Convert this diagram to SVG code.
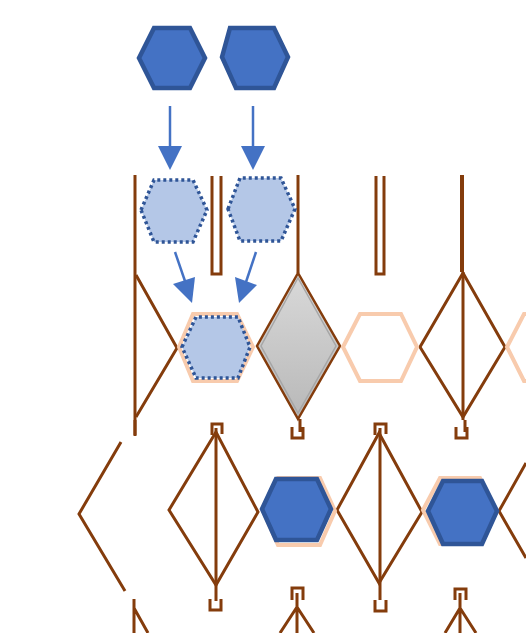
<svg xmlns="http://www.w3.org/2000/svg" width="526" height="633" viewBox="0 0 526 633">
<style>
.br{stroke:#843C0C;stroke-width:3;fill:none}
.pe{stroke:#F8CBAD;stroke-width:4;fill:none}
.hb{fill:#4472C4;stroke:#2F5597;stroke-width:4.5;stroke-linejoin:miter}
.hd{fill:#B4C7E7;stroke:#2F5597;stroke-width:3.5;stroke-dasharray:3 3}
.ar{stroke:#4472C4;stroke-width:2.5;fill:none}
.ah{fill:#4472C4}
</style>
<defs>
<linearGradient id="gg" x1="0" y1="0" x2="0" y2="1">
<stop offset="0" stop-color="#D9D9D9"/>
<stop offset="1" stop-color="#B8B8B8"/>
</linearGradient>
</defs>
<rect width="526" height="633" fill="#fff"/>
<g id="connectors">
<line class="ar" x1="170" y1="106" x2="170" y2="148"/>
<polygon class="ah" points="158,146 182,146 170,170"/>
<line class="ar" x1="253" y1="106" x2="253" y2="148"/>
<polygon class="ah" points="241,146 265,146 253,170"/>
<line class="ar" x1="175" y1="252" x2="186" y2="284"/>
<polygon class="ah" points="173,284 195,277 192,303"/>
<line class="ar" x1="256" y1="252" x2="246" y2="282"/>
<polygon class="ah" points="235,277 257,285 239,303"/>
<path class="br" d="M135,175 V436"/>
<path class="br" d="M136,275 L177,348 L136,417"/>
<path class="br" d="M212,176 V274 H221 V176"/>
<path class="br" d="M298,175 V273"/>
<path class="br" d="M376,176 V274 H384 V176"/>
<path class="br" d="M462,175 V272" style="stroke-width:4"/>
<path class="br" d="M463,272 V420"/>
<path class="br" d="M463,273 L420,347 L463,417 L505,347 Z"/>
<path class="br" d="M300,419 V432 M292,427 V438 H303 V427"/>
<path class="br" d="M212,435 V424 H222 V434 M216,428 V601"/>
<path class="br" d="M216,432 L169,510 L216,585 L258,512 Z"/>
<path class="br" d="M210,599 V610 H221 V599"/>
<path class="br" d="M375,435 V424 H386 V434 M380,428 V600"/>
<path class="br" d="M379,433 L337,510 L379,583 L422,512 Z"/>
<path class="br" d="M375,600 V611 H386 V600"/>
<path class="br" d="M456,427 V438 H467 V427 M465,420 V432"/>
<path class="br" d="M121,442 L79,514 L125,591"/>
<path class="br" d="M135,420 V435"/>
<path class="br" d="M134,599 V633 M134,608 L148,633"/>
<path class="br" d="M292,600 V588 H303 V600 M297,593 V633 M297,607 L280,633 M297,607 L314,633"/>
<path class="br" d="M455,600 V589 H466 V600 M460,593 V633 M460,608 L445,633 M460,608 L476,633"/>
<path class="br" d="M499,511 L526,463 M499,511 L526,558"/>
</g>
<g id="hex1"><polygon class="hb" points="139,58 154,28 190,28 205,58 190,88 154,88"/></g>
<g id="hex2"><polygon class="hb" points="222,57 230,28 274,28 288,57 274,88 236,88"/></g>
<g id="hex3"><polygon class="hd" points="141,210 154,180 193,180 207,210 193,242 154,242"/></g>
<g id="hex4"><polygon class="hd" points="228,209 240,178 281,178 295,209 281,241 240,241"/></g>
<g id="hex5">
<polygon class="pe" points="179,347 193,314 237,314 253,347 237,381 193,381"/>
<polygon class="hd" points="182,347 196,317 238,317 250,347 238,378 196,378"/>
</g>
<g id="diamond1">
<polygon points="298,273 257,346 298,419 340,346" fill="url(#gg)" stroke="#843C0C" stroke-width="2.5"/>
<polygon points="298,278 261,346 298,413 336,346" fill="none" stroke="#A6A6A6" stroke-width="1.5"/>
</g>
<g id="hex6"><polygon class="pe" points="343,347 360,314 401,314 417,347 401,381 360,381"/></g>
<g id="hex7"><polygon class="pe" points="507,347 524,314 565,314 581,347 565,381 524,381"/></g>
<g id="hex8">
<polygon class="pe" points="263,511 278,478 320,478 335,511 320,545 278,545"/>
<polygon class="hb" points="262,509 276,479 317,479 331,509 317,540 276,540"/>
</g>
<g id="hex9">
<polygon class="pe" points="423,510 440,478 480,478 496,510 480,544 440,544"/>
<polygon class="hb" points="428,511 443,481 482,481 497,511 482,544 443,544"/>
</g>
</svg>
